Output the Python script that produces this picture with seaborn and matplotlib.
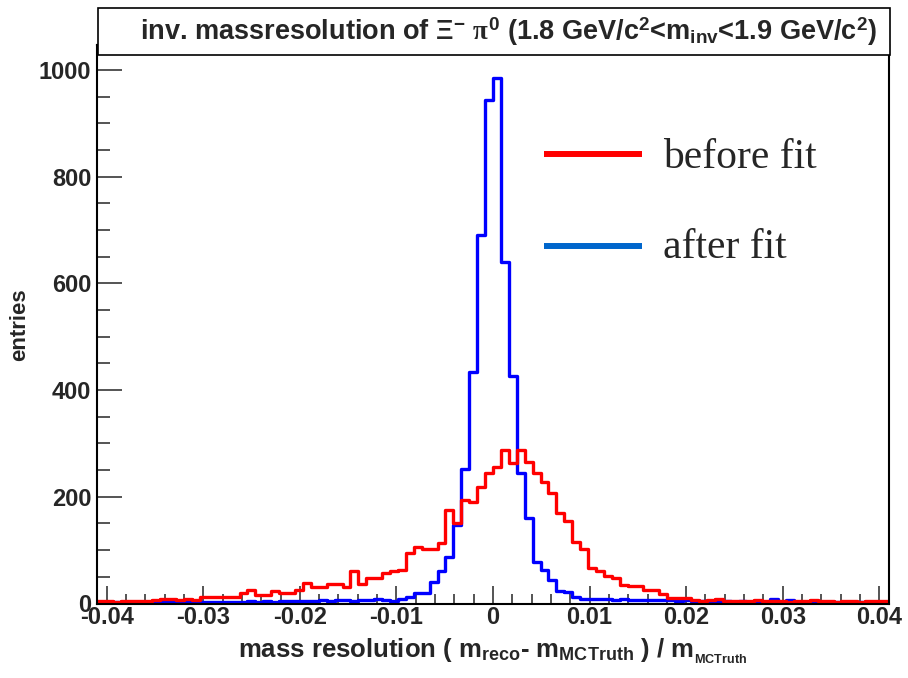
import numpy as np
import pandas as pd
import matplotlib
matplotlib.use("Agg")
import matplotlib.pyplot as plt
from matplotlib.patches import Rectangle
from matplotlib.lines import Line2D
from matplotlib.ticker import MultipleLocator
import seaborn as sns

# ---------------- data ----------------
hist_range = (-0.041, 0.041)
n_bins = 100

before_fit = [5, 5, 2, 5, 5, 5, 4, 6, 9, 9,
              7, 9, 6, 13, 13, 13, 13, 13, 19, 26,
              15, 16, 23, 19, 19, 25, 38, 30, 31, 36,
              36, 31, 61, 36, 47, 47, 58, 60, 63, 94,
              105, 103, 103, 114, 175, 150, 194, 191, 218, 245,
              255, 288, 263, 288, 266, 245, 228, 208, 169, 155,
              116, 102, 66, 60, 52, 47, 35, 33, 32, 25,
              25, 17, 10, 10, 10, 7, 5, 6, 8, 5,
              5, 4, 5, 7, 5, 4, 5, 3, 4, 5,
              6, 4, 4, 3, 5, 4, 3, 4, 5, 5]

after_fit = [2, 1, 2, 1, 2, 2, 1, 2, 2, 3,
             2, 3, 2, 2, 3, 2, 3, 3, 2, 4,
             3, 4, 3, 4, 5, 4, 5, 5, 6, 5,
             6, 6, 5, 7, 6, 8, 6, 5, 9, 13,
             19, 19, 41, 60, 88, 148, 253, 434, 690, 943,
             986, 640, 426, 245, 160, 77, 63, 44, 24, 22,
             13, 8, 9, 8, 8, 7, 8, 7, 7, 6,
             7, 6, 6, 5, 6, 5, 5, 4, 5, 4,
             3, 4, 3, 3, 3, 8, 3, 7, 3, 2,
             3, 2, 2, 3, 2, 2, 2, 1, 2, 2]

x_ticks = [-0.04, -0.03, -0.02, -0.01, 0.0, 0.01, 0.02, 0.03, 0.04]
x_tick_labels = ["-0.04", "-0.03", "-0.02", "-0.01", "0", "0.01", "0.02", "0.03", "0.04"]
y_ticks = [0, 200, 400, 600, 800, 1000]
y_tick_labels = ["0", "200", "400", "600", "800", "1000"]
legend_labels = ["before fit", "after fit"]

edges = np.linspace(hist_range[0], hist_range[1], n_bins + 1)
centers = 0.5 * (edges[:-1] + edges[1:])
df = pd.DataFrame({"x": np.concatenate([centers, centers]),
                   "w": np.concatenate([before_fit, after_fit]),
                   "series": ["before"] * n_bins + ["after"] * n_bins})

# ---------------- style ----------------
sns.set_style("white")
plt.rcParams["font.family"] = ["Liberation Sans", "DejaVu Sans"]
plt.rcParams["font.weight"] = "bold"
plt.rcParams["mathtext.fontset"] = "custom"
plt.rcParams["mathtext.rm"] = "Liberation Sans:bold"
plt.rcParams["mathtext.bf"] = "Liberation Sans:bold"
plt.rcParams["mathtext.it"] = "Liberation Serif"
plt.rcParams["mathtext.sf"] = "Liberation Sans:bold"

W, H = 908, 678
fig = plt.figure(figsize=(W / 100, H / 100), dpi=100)
ax = fig.add_axes([97 / W, 1 - 603.5 / H, (889 - 97) / W, (603.5 - 45) / H])

bin_list = edges.tolist()
sns.histplot(data=df[df.series == "after"], x="x", weights="w", bins=bin_list,
             element="step", fill=False, color="#0000ff", linewidth=2.4, ax=ax)
sns.histplot(data=df[df.series == "before"], x="x", weights="w", bins=bin_list,
             element="step", fill=False, color="#ff0000", linewidth=2.4, ax=ax)

ax.set_xlim(hist_range)
ax.set_ylim(0, 1047)
ax.set_xticks(x_ticks)
ax.set_xticklabels(x_tick_labels, fontsize=17, fontweight="bold")
ax.set_yticks(y_ticks)
ax.set_yticklabels(y_tick_labels, fontsize=17, fontweight="bold")
ax.xaxis.set_minor_locator(MultipleLocator(0.002))
ax.yaxis.set_minor_locator(MultipleLocator(50))
ax.tick_params(axis="x", which="major", direction="in", length=13, width=1.1, pad=2,
               bottom=True, top=False)
ax.tick_params(axis="x", which="minor", direction="in", length=7, width=1.1,
               bottom=True, top=False)
ax.tick_params(axis="y", which="major", direction="in", length=18, width=1.1, pad=4,
               left=True, right=False)
ax.tick_params(axis="y", which="minor", direction="in", length=9.5, width=1.1,
               left=True, right=False)
for s in ax.spines.values():
    s.set_visible(True)
    s.set_color("black")
    s.set_linewidth(1.5)
ax.set_xlabel("")
ax.set_ylabel("")

# axis titles
fig.text(493 / W, 1 - 658 / H,
         r"mass resolution ( m$_{\mathrm{reco}}$- m$_{\mathrm{MCTruth}}$ ) / m$_{_{\mathrm{MCTruth}}}$",
         ha="center", va="baseline", fontsize=18.5, fontweight="bold")
fig.text(20 / W, 1 - 325 / H, "entries", rotation=90, ha="center", va="center",
         fontsize=16, fontweight="bold")

# title box
fig.patches.append(Rectangle((98 / W, 1 - 55 / H), (890 - 98) / W, (55 - 8) / H,
                             transform=fig.transFigure, facecolor="white",
                             edgecolor="black", linewidth=1.2, zorder=5))
fig.text(508 / W, 1 - 40 / H,
         r"inv. massresolution of $\Xi^{\mathrm{-}}$ $\pi^{\mathrm{0}}$ (1.8 GeV/c$^{\mathrm{2}}$<m$_{\mathrm{inv}}$<1.9 GeV/c$^{\mathrm{2}}$)",
         ha="center", va="baseline", fontsize=19.5, fontweight="bold", zorder=6)

# legend
leg_colors = ["#ff0000", "#0066cc"]
leg_y = [154, 246]
text_base = [168, 258]
for lab, col, ly, tb in zip(legend_labels, leg_colors, leg_y, text_base):
    fig.add_artist(Line2D([544 / W, 642 / W], [1 - ly / H, 1 - ly / H],
                          transform=fig.transFigure, color=col, linewidth=4.3,
                          solid_capstyle="butt"))
    fig.text(663 / W, 1 - tb / H, lab, ha="left", va="baseline",
             fontsize=30, fontweight="normal", family=["Liberation Serif", "DejaVu Serif"])

fig.savefig("out.png", dpi=100, facecolor="white")
